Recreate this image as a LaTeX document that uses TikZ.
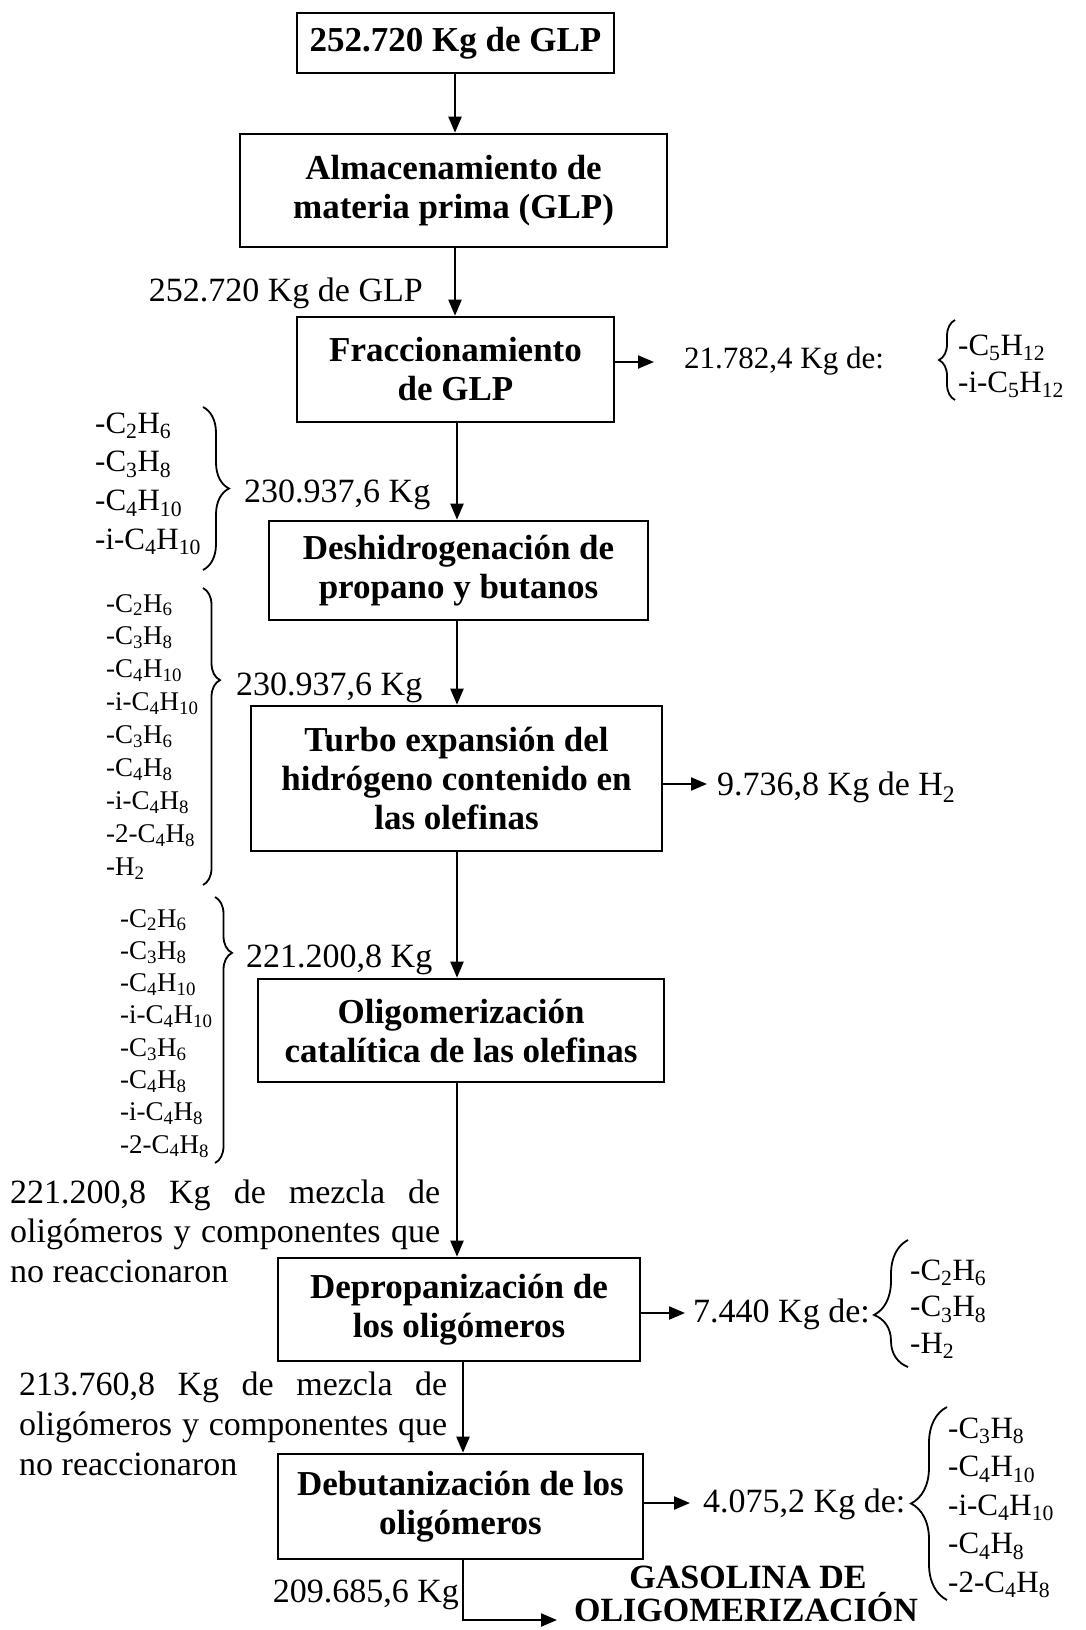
\documentclass[tikz,border=0pt]{standalone}
\usepackage{fontspec}
\setmainfont{Liberation Serif}
\usetikzlibrary{arrows.meta,decorations.pathreplacing,calc}
\newcommand{\sbs}[1]{\textsubscript{#1}}
\tikzset{
  proc/.style={draw, line width=2.6pt, inner sep=0pt, align=center, font=\fontsize{35}{39}\selectfont\bfseries},
  arr/.style={line width=2.2pt, -{Triangle[length=16pt,width=13pt]}},
  lbl/.style={inner sep=0pt, font=\fontsize{34}{39}\selectfont},
  chemA/.style={inner sep=0pt, font=\fontsize{31}{36}\selectfont, anchor=base west},
  chemB/.style={inner sep=0pt, font=\fontsize{27}{32}\selectfont, anchor=base west},
  brc/.style={line width=1.8pt, decorate},
  gas/.style={inner sep=0pt, font=\fontsize{34}{34}\selectfont\bfseries, anchor=base},
}
\begin{document}
\begin{tikzpicture}[x=1pt,y=-1pt]
\fill[white] (0,0) rectangle (1086,1630);
\useasboundingbox (0,0) rectangle (1086,1630);

% process boxes
\node[proc, minimum width=317pt, minimum height=60pt]  (b1) at (455.5,43)    {252.720 Kg de GLP};
\node[proc, minimum width=427pt, minimum height=113pt] (b2) at (453.5,190.5) {Almacenamiento de\\materia prima (GLP)};
\node[proc, minimum width=317pt, minimum height=105pt] (b3) at (455.5,369.5) {Fraccionamiento\\de GLP};
\node[proc, minimum width=379pt, minimum height=99pt]  (b4) at (458.5,570.5) {Deshidrogenación de\\propano y butanos};
\node[proc, minimum width=411pt, minimum height=145pt] (b5) at (456.5,778.5) {Turbo expansión del\\hidrógeno contenido en\\las olefinas};
\node[proc, minimum width=406pt, minimum height=103pt] (b6) at (461,1030.5)  {Oligomerización\\catalítica de las olefinas};
\node[proc, minimum width=362pt, minimum height=103pt] (b7) at (459,1309.5)  {Depropanización de\\los oligómeros};
\node[proc, minimum width=365pt, minimum height=105pt] (b8) at (460.5,1506.5) {Debutanización de los\\oligómeros};

% arrow lines
\coordinate (xa) at (455,0);
\coordinate (xb) at (457,0);
\coordinate (xc) at (463,0);
\draw[arr] (b1.south -| xa) -- (b2.north -| xa);
\draw[arr] (b2.south -| xa) -- (b3.north -| xa);
\draw[arr] (b3.south -| xb) -- (b4.north -| xb);
\draw[arr] (b4.south -| xb) -- (b5.north -| xb);
\draw[arr] (b5.south -| xb) -- (b6.north -| xb);
\draw[arr] (b6.south -| xb) -- (b7.north -| xb);
\draw[arr] (b7.south -| xc) -- (b8.north -| xc);
\coordinate (gout) at (557,1620);
\draw[arr] (b8.south -| xc) |- (gout);

\coordinate (r3) at (654,362);
\coordinate (r5) at (707,784);
\coordinate (r7) at (685,1313);
\coordinate (r8) at (690,1503);
\draw[arr] (b3.east |- r3) -- (r3);
\draw[arr] (b5.east |- r5) -- (r5);
\draw[arr] (b7.east |- r7) -- (r7);
\draw[arr] (b8.east |- r8) -- (r8);

% flow labels
\node[lbl, anchor=base east] (t0) at (423,301) {252.720 Kg de GLP};
\node[lbl, anchor=base west, font=\fontsize{31}{36}\selectfont] (t3) at (684,368) {21.782,4 Kg de:};
\node[lbl, anchor=base west] (t5) at (717,795) {9.736,8 Kg de H\sbs{2}};
\node[lbl, anchor=base west] (t7) at (693,1322) {7.440 Kg de:};
\node[lbl, anchor=base west] (t8) at (703,1512) {4.075,2 Kg de:};
\node[lbl, anchor=base west] (t1) at (244,502) {230.937,6 Kg};
\node[lbl, anchor=base west] (t2) at (236,695) {230.937,6 Kg};
\node[lbl, anchor=base west] (t4) at (246,967) {221.200,8 Kg};
\node[lbl, anchor=base east] (t9) at (459,1602) {209.685,6 Kg};

\node[lbl, anchor=base west] (m1a) at (10,1203) {\makebox[430pt][s]{221.200,8 Kg de mezcla de}};
\node[lbl, anchor=base west] (m1b) at (10,1242) {\makebox[430pt][s]{oligómeros y componentes que}};
\node[lbl, anchor=base west] (m1c) at (10,1282) {no reaccionaron};
\node[lbl, anchor=base west] (m2a) at (19,1395) {\makebox[428pt][s]{213.760,8 Kg de mezcla de}};
\node[lbl, anchor=base west] (m2b) at (19,1435) {\makebox[428pt][s]{oligómeros y componentes que}};
\node[lbl, anchor=base west] (m2c) at (19,1475) {no reaccionaron};

\node[gas] (g1) at (748,1588) {GASOLINA DE};
\node[gas] (g2) at (746,1621) {OLIGOMERIZACIÓN};

% left component lists
\foreach \t [count=\i] in {{-C\sbs{2}H\sbs{6}},{-C\sbs{3}H\sbs{8}},{-C\sbs{4}H\sbs{10}},{-i-C\sbs{4}H\sbs{10}}}
  \node[chemA] (la\i) at (95,{433+38.7*(\i-1)}) {\t};
\draw[brc, decoration={brace, amplitude=26pt}] (203,407) -- (203,570);

\foreach \t [count=\i] in {{-C\sbs{2}H\sbs{6}},{-C\sbs{3}H\sbs{8}},{-C\sbs{4}H\sbs{10}},{-i-C\sbs{4}H\sbs{10}},{-C\sbs{3}H\sbs{6}},{-C\sbs{4}H\sbs{8}},{-i-C\sbs{4}H\sbs{8}},{-2-C\sbs{4}H\sbs{8}},{-H\sbs{2}}}
  \node[chemB] (lb\i) at (106,{612+32.9*(\i-1)}) {\t};
\draw[brc, decoration={brace, amplitude=17pt, aspect=0.31}] (203,588) -- (203,885);

\foreach \t [count=\i] in {{-C\sbs{2}H\sbs{6}},{-C\sbs{3}H\sbs{8}},{-C\sbs{4}H\sbs{10}},{-i-C\sbs{4}H\sbs{10}},{-C\sbs{3}H\sbs{6}},{-C\sbs{4}H\sbs{8}},{-i-C\sbs{4}H\sbs{8}},{-2-C\sbs{4}H\sbs{8}}}
  \node[chemB] (lc\i) at (120,{927+32.3*(\i-1)}) {\t};
\draw[brc, decoration={brace, amplitude=17pt, aspect=0.21}] (215,897) -- (215,1163);

% right component lists
\node[chemA] (ra1) at (958,355) {-C\sbs{5}H\sbs{12}};
\node[chemA] (ra2) at (958,392) {-i-C\sbs{5}H\sbs{12}};
\draw[brc, decoration={brace, amplitude=16pt}] (955,400) -- (955,320);

\foreach \t [count=\i] in {{-C\sbs{2}H\sbs{6}},{-C\sbs{3}H\sbs{8}},{-H\sbs{2}}}
  \node[chemA] (rb\i) at (910,{1280+36.5*(\i-1)}) {\t};
\draw[brc, decoration={brace, amplitude=34pt, aspect=0.41}] (908,1367) -- (908,1240);

\foreach \t [count=\i] in {{-C\sbs{3}H\sbs{8}},{-C\sbs{4}H\sbs{10}},{-i-C\sbs{4}H\sbs{10}},{-C\sbs{4}H\sbs{8}},{-2-C\sbs{4}H\sbs{8}}}
  \node[chemA] (rc\i) at (948,{1438+38.5*(\i-1)}) {\t};
\draw[brc, decoration={brace, amplitude=36pt}] (947,1600) -- (947,1407);
\end{tikzpicture}
\end{document}
